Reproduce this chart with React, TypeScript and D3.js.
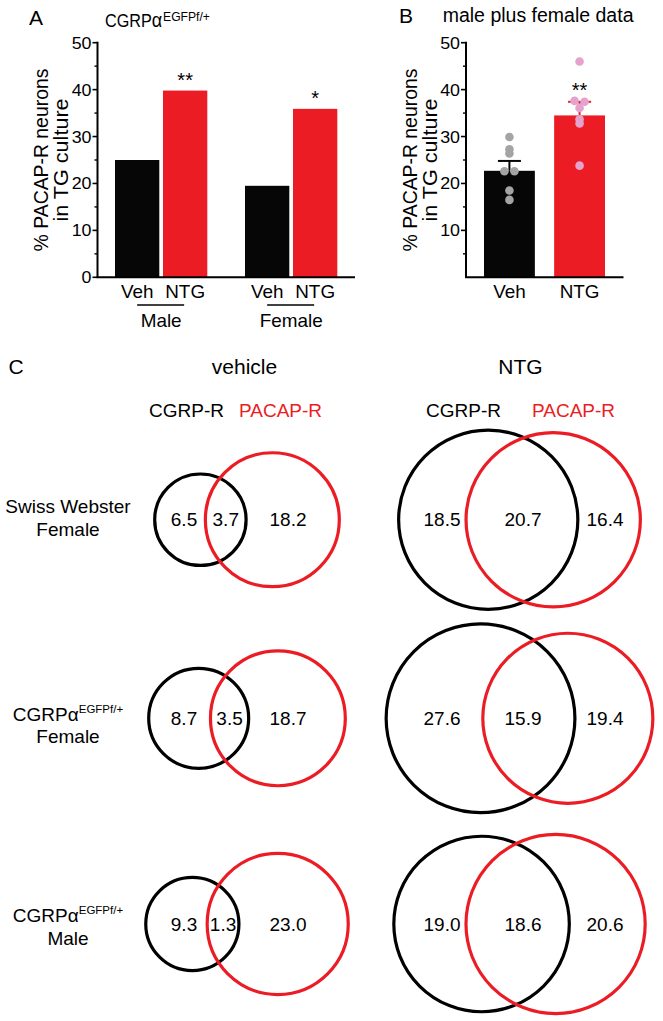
import React from 'react';
import * as d3 from 'd3';

const FONT = "'Liberation Sans', Arial, Helvetica, sans-serif";
const RED = '#ec1c24';
const BLACK = '#060606';
const GREY_PT = '#a4a4a4';
const PINK_PT = '#e4a2cd';

// ---------- Panel A data ----------
const groupsA = ['Male', 'Female'];
const treatments = ['Veh', 'NTG'];
const vehA = [25.0, 19.5];
const ntgA = [39.8, 35.9];
const sigA = ['**', '*'];
const majorTicksA = [0, 10, 20, 30, 40, 50];

// ---------- Panel B data ----------
const meansB = [22.7, 34.5];
const semB = [2.1, 2.9];
const vehPointsB = [29.9, 27.3, 26.4, 22.6, 22.6, 18.5, 16.5];
const ntgPointsB = [46.0, 37.6, 37.4, 36.1, 33.7, 32.8, 23.8];
const sigB = '**';
const majorTicksB = [10, 20, 30, 40, 50];

// ---------- Panel C data ----------
const conditions = ['vehicle', 'NTG'];
const setNames = ['CGRP-R', 'PACAP-R'];
const rowStrain = ['Swiss Webster', 'CGRPα', 'CGRPα'];
const rowStrainSup = ['', 'EGFPf/+', 'EGFPf/+'];
const rowSex = ['Female', 'Female', 'Male'];
// [row][condition]
const cgrpOnly = [[6.5, 18.5], [8.7, 27.6], [9.3, 19.0]];
const overlapBoth = [[3.7, 20.7], [3.5, 15.9], [1.3, 18.6]];
const pacapOnly = [[18.2, 16.4], [18.7, 19.4], [23.0, 20.6]];

// ---------- layout ----------
const rowCy = [519.7, 718.3, 924];
const rowLabelY = [[513.3, 536.3], [721, 742.5], [921.7, 945]];
const colLayout = [
  { cx: 247, setL: -23, setR: -8, nums: [-63, null, 41] as (number | null)[] },
  { cx: 519.5, setL: -18.5, setR: 12.5, nums: [-77.5, 3.5, 85.5] as (number | null)[] },
];
const NUM_SIZE = 19;

function T(props: {
  x: number; y: number; size: number; sx?: number; anchor?: string; fill?: string;
  rotate?: number; children?: React.ReactNode;
}) {
  const { x, y, size, sx = 1, anchor = 'start', fill = '#000', rotate = 0, children } = props;
  return (
    <text
      transform={`translate(${x},${y}) rotate(${rotate}) scale(${sx},1)`}
      fontSize={size}
      fontFamily={FONT}
      textAnchor={anchor as any}
      fill={fill}
    >
      {children}
    </text>
  );
}

function lensArea(r1: number, r2: number, d: number) {
  if (d >= r1 + r2) return 0;
  if (d <= Math.abs(r1 - r2)) return Math.PI * Math.min(r1, r2) ** 2;
  const a1 = Math.acos((d * d + r1 * r1 - r2 * r2) / (2 * d * r1));
  const a2 = Math.acos((d * d + r2 * r2 - r1 * r1) / (2 * d * r2));
  const k = Math.sqrt((-d + r1 + r2) * (d + r1 - r2) * (d - r1 + r2) * (d + r1 + r2));
  return r1 * r1 * a1 + r2 * r2 * a2 - 0.5 * k;
}

function solveDistance(r1: number, r2: number, area: number) {
  let lo = Math.abs(r1 - r2), hi = r1 + r2;
  for (let i = 0; i < 60; i++) {
    const mid = (lo + hi) / 2;
    if (lensArea(r1, r2, mid) > area) lo = mid; else hi = mid;
  }
  return (lo + hi) / 2;
}

function spread(values: number[], gap: number) {
  return values.map((v, i) => {
    const grp = values.map((w, j) => ({ w, j })).filter(o => Math.abs(o.w - v) < 0.5);
    const idx = grp.findIndex(o => o.j === i);
    return (idx - (grp.length - 1) / 2) * gap;
  });
}

function YAxis({ x, y, ticks, top }: { x: number; y: d3.ScaleLinear<number, number>; ticks: number[]; top: number }) {
  const minor = d3.range(5, 50, 10);
  return (
    <g>
      <line x1={x} x2={x} y1={y(top) - 1} y2={y(0)} stroke="#000" strokeWidth={2} />
      {ticks.map(t => (
        <g key={'M' + t}>
          <line x1={x - 5} x2={x} y1={y(t)} y2={y(t)} stroke="#000" strokeWidth={1.6} />
          <T x={x - 6} y={y(t) + 6} size={17} sx={1.05} anchor="end">{t}</T>
        </g>
      ))}
      {minor.map(t => (
        <line key={'m' + t} x1={x - 3} x2={x} y1={y(t)} y2={y(t)} stroke="#000" strokeWidth={1.4} />
      ))}
    </g>
  );
}

function YLabel({ x, cy }: { x: number; cy: number }) {
  return (
    <g>
      <T x={x} y={cy} size={20} sx={0.97} anchor="middle" rotate={-90}>% PACAP-R neurons</T>
      <T x={x + 20} y={cy} size={20} sx={1.08} anchor="middle" rotate={-90}>in TG culture</T>
    </g>
  );
}

export default function App() {
  const y = d3.scaleLinear().domain([0, 50]).range([277.3, 42.7]);

  // Panel A scales
  const axA = 97.5;
  const x0 = d3.scaleBand<string>().domain(groupsA).range([115, 337.3]).paddingInner(0.29);
  const x1 = d3.scaleBand<string>().domain(treatments).range([0, x0.bandwidth()]).paddingInner(0.077);
  const valsA = [vehA, ntgA];

  // Panel B scales
  const axB = 466;
  const xb = d3.scaleBand<string>().domain(treatments).range([484, 605]).paddingInner(0.275);
  const ptsB = [vehPointsB, ntgPointsB];
  const ptColors = [GREY_PT, PINK_PT];
  const barColors = [BLACK, RED];

  // Panel C
  const rScale = d3.scaleSqrt().domain([0, 45]).range([0, 96]);
  const fmt = d3.format('.1f');

  return (
    <svg width={663} height={1021} style={{ position: 'absolute', left: 0, top: 0, background: '#fff' }}>
      <rect x={0} y={0} width={663} height={1021} fill="#fff" />

      {/* ---------------- Panel A ---------------- */}
      <T x={29} y={25} size={21}>A</T>
      <text transform="translate(105,26.7) scale(0.9,1)" fontSize={18} fontFamily={FONT}>
        CGRP<tspan fontSize={20}>α</tspan><tspan fontSize={13.5} dx={1} dy={-6}>EGFPf/+</tspan>
      </text>
      <YLabel x={48} cy={y(25)} />
      {groupsA.map((g, gi) =>
        treatments.map((t, ti) => {
          const v = valsA[ti][gi];
          const bx = (x0(g) as number) + (x1(t) as number);
          return (
            <rect key={g + t} x={bx} y={y(v)} width={x1.bandwidth()} height={y(0) - y(v)} fill={barColors[ti]} />
          );
        })
      )}
      {groupsA.map((g, gi) => {
        const cxN = (x0(g) as number) + (x1('NTG') as number) + x1.bandwidth() / 2;
        return <T key={'s' + g} x={cxN} y={y(ntgA[gi]) - 4} size={20} anchor="middle">{sigA[gi]}</T>;
      })}
      <YAxis x={axA} y={y} ticks={majorTicksA} top={50} />
      <line x1={axA - 1} x2={355} y1={y(0)} y2={y(0)} stroke="#000" strokeWidth={2} />
      {groupsA.map(g => {
        const cV = (x0(g) as number) + (x1('Veh') as number) + x1.bandwidth() / 2;
        const cN = (x0(g) as number) + (x1('NTG') as number) + x1.bandwidth() / 2;
        return (
          <g key={'xl' + g}>
            <T x={cV} y={298.3} size={18} sx={1.05} anchor="middle">Veh</T>
            <T x={cN} y={298.3} size={18} sx={1.05} anchor="middle">NTG</T>
            <line x1={cV} x2={cN - 1} y1={305} y2={305} stroke="#000" strokeWidth={1.5} />
            <T x={(cV + cN) / 2} y={326.7} size={18} sx={1.05} anchor="middle">{g}</T>
          </g>
        );
      })}

      {/* ---------------- Panel B ---------------- */}
      <T x={399} y={23} size={21}>B</T>
      <T x={442.7} y={22} size={19.5}>male plus female data</T>
      <YLabel x={417} cy={y(25)} />
      {treatments.map((t, ti) => (
        <rect key={'b' + t} x={xb(t) as number} y={y(meansB[ti])} width={xb.bandwidth()}
          height={y(0) - y(meansB[ti])} fill={barColors[ti]} />
      ))}
      {treatments.map((t, ti) => {
        const c = (xb(t) as number) + xb.bandwidth() / 2;
        const top = y(meansB[ti] + semB[ti]);
        return (
          <g key={'e' + t}>
            <line x1={c} x2={c} y1={y(meansB[ti])} y2={top} stroke={barColors[ti]} strokeWidth={2} />
            <line x1={c - 11.5} x2={c + 11.5} y1={top} y2={top} stroke={barColors[ti]} strokeWidth={2} />
          </g>
        );
      })}
      {treatments.map((t, ti) => {
        const c = (xb(t) as number) + xb.bandwidth() / 2;
        const offs = spread(ptsB[ti], 10);
        return (
          <g key={'p' + t}>
            {ptsB[ti].map((v, i) => (
              <circle key={i} cx={c + offs[i]} cy={y(v)} r={4.3} fill={ptColors[ti]} />
            ))}
          </g>
        );
      })}
      <T x={(xb('NTG') as number) + xb.bandwidth() / 2} y={y(meansB[1] + semB[1]) - 4.5} size={20} anchor="middle">{sigB}</T>
      <YAxis x={axB} y={y} ticks={majorTicksB} top={50} />
      <line x1={axB - 1} x2={623.5} y1={y(0)} y2={y(0)} stroke="#000" strokeWidth={2} />
      {treatments.map(t => (
        <T key={'bx' + t} x={(xb(t) as number) + xb.bandwidth() / 2} y={298.3} size={18} sx={1.05} anchor="middle">{t}</T>
      ))}

      {/* ---------------- Panel C ---------------- */}
      <T x={8.5} y={374.3} size={21}>C</T>
      {conditions.map((c, ci) => (
        <g key={'hdr' + c}>
          <T x={colLayout[ci].cx - 2.5 + ci * 3.5} y={374.3} size={21} anchor="middle">{c}</T>
          <T x={colLayout[ci].cx + colLayout[ci].setL} y={416.7} size={19} anchor="end">{setNames[0]}</T>
          <T x={colLayout[ci].cx + colLayout[ci].setR} y={416.7} size={19} fill={RED}>{setNames[1]}</T>
        </g>
      ))}
      {rowStrain.map((s, ri) => (
        <g key={'rl' + ri}>
          <text x={68} y={rowLabelY[ri][0]} fontSize={19} fontFamily={FONT} textAnchor="middle">
            {s}
            {rowStrainSup[ri] ? <tspan fontSize={11.5} dy={-8}>{rowStrainSup[ri]}</tspan> : null}
          </text>
          <T x={68} y={rowLabelY[ri][1]} size={19} anchor="middle">{rowSex[ri]}</T>
        </g>
      ))}
      {rowStrain.map((_, ri) =>
        conditions.map((c, ci) => {
          const a = cgrpOnly[ri][ci];
          const b = overlapBoth[ri][ci];
          const cc = pacapOnly[ri][ci];
          const r1 = rScale(a + b);
          const r2 = rScale(b + cc);
          const target = Math.PI * rScale(b) ** 2;
          // area-proportional distance, but keep the lens wide enough for its label
          const labelW = fmt(b).length * NUM_SIZE * 0.47 + 5;
          const d = Math.min(solveDistance(r1, r2, target), r1 + r2 - labelW);
          const W = r1 + d + r2;
          const cx = colLayout[ci].cx;
          const left = cx - W / 2;
          const c1 = left + r1;
          const c2 = c1 + d;
          const lensMid = (c2 - r2 + c1 + r1) / 2;
          const cy = rowCy[ri];
          const vals = [a, b, cc];
          return (
            <g key={'v' + ri + c}>
              <circle cx={c1} cy={cy} r={r1} fill="none" stroke="#000" strokeWidth={3.2} />
              <circle cx={c2} cy={cy} r={r2} fill="none" stroke={RED} strokeWidth={3.2} />
              {vals.map((v, k) => {
                const off = colLayout[ci].nums[k];
                const tx = off === null ? lensMid : cx + off;
                return <T key={k} x={tx} y={cy + 6.5} size={NUM_SIZE} anchor="middle">{fmt(v)}</T>;
              })}
            </g>
          );
        })
      )}
    </svg>
  );
}
